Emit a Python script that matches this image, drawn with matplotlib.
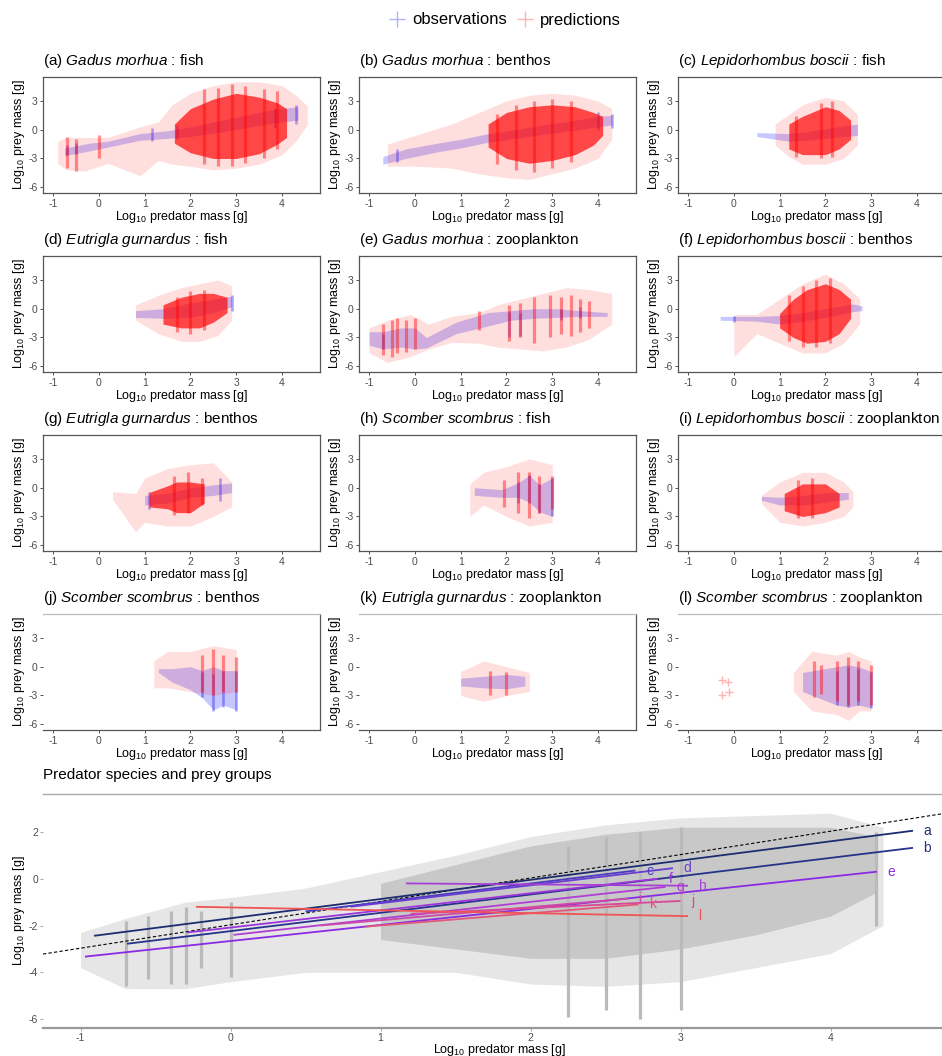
import matplotlib
matplotlib.use("Agg")
import matplotlib.pyplot as plt
from matplotlib.lines import Line2D

plt.rcParams["font.family"] = ["Liberation Sans", "DejaVu Sans"]
plt.rcParams["mathtext.fontset"] = "custom"
plt.rcParams["mathtext.rm"] = "Liberation Sans"
plt.rcParams["mathtext.it"] = "Liberation Sans:italic"
plt.rcParams["axes.unicode_minus"] = False

# ---- data: (log10 predator mass, prey mass low, prey mass high)
panel_ids = ["a", "b", "c", "d", "e", "f", "g", "h", "i", "j", "k", "l"]
panel_species = ["Gadus morhua", "Gadus morhua", "Lepidorhombus boscii",
                 "Eutrigla gurnardus", "Gadus morhua", "Lepidorhombus boscii",
                 "Eutrigla gurnardus", "Scomber scombrus", "Lepidorhombus boscii",
                 "Scomber scombrus", "Eutrigla gurnardus", "Scomber scombrus"]
panel_prey = ["fish", "benthos", "fish", "fish", "zooplankton", "benthos",
              "benthos", "fish", "zooplankton", "benthos", "zooplankton", "zooplankton"]

pred_env_a = [(-0.9, -3.5, -1.2), (-0.7, -4.2, -0.8), (-0.3, -4.3, -0.8), (0.2, -3.5, -0.8),
              (0.9, -4.8, 0.3), (1.3, -3.2, 0.8), (1.6, -3.6, 2.6), (2.0, -3.8, 3.8),
              (2.5, -4.2, 4.6), (3.0, -4.0, 5.0), (3.5, -3.6, 5.0), (4.0, -2.6, 4.6),
              (4.3, -1.2, 3.6), (4.55, 0.5, 2.5)]
pred_core_a = [(1.65, -1.4, 0.6), (2.0, -2.4, 2.2), (2.5, -3.0, 3.2), (3.0, -3.0, 3.8),
               (3.5, -2.5, 3.4), (3.9, -1.5, 2.8), (4.1, -0.8, 2.2)]
pred_streak_a = [(-0.7, -4.0, -0.8), (-0.5, -4.3, -1.0), (0.0, -3.0, -0.5), (2.3, -3.6, 4.2),
                 (2.6, -3.8, 4.4), (2.9, -3.8, 4.8), (3.2, -3.5, 4.6), (3.6, -3.0, 4.2),
                 (3.9, -2.0, 4.0)]
obs_a = [(-0.75, -2.7, -1.9), (-0.2, -2.2, -1.4), (0.2, -1.8, -1.2), (0.9, -1.1, -0.4),
         (1.5, -0.9, -0.1), (2.0, -0.7, 0.3), (2.6, -0.3, 0.9), (3.2, 0.2, 1.5),
         (3.8, 0.7, 2.1), (4.35, 1.0, 2.4)]
obs_streak_a = [(-0.7, -2.6, -1.6), (-0.5, -2.5, -1.4), (1.15, -1.2, 0.2), (1.7, -1.0, 0.5),
                (3.85, 0.2, 2.3), (4.3, 0.6, 2.6)]

pred_env_b = [(-0.6, -3.8, -1.5), (0.0, -3.8, -0.6), (0.8, -4.0, 0.6), (1.4, -4.6, 1.8),
              (2.0, -5.0, 3.0), (2.5, -5.2, 3.6), (3.0, -4.6, 3.8), (3.5, -4.0, 3.6),
              (4.0, -3.0, 3.0), (4.3, -1.0, 2.2)]
pred_core_b = [(1.6, -1.8, 0.6), (2.0, -3.0, 1.8), (2.5, -3.5, 2.4), (3.0, -3.2, 2.6),
               (3.5, -2.6, 2.4), (3.9, -1.6, 1.8), (4.1, -0.6, 1.4)]
pred_streak_b = [(1.8, -3.6, 1.6), (2.2, -4.2, 2.6), (2.6, -4.4, 3.0), (3.0, -4.0, 3.2),
                 (3.4, -3.4, 3.0)]
obs_b = [(-0.7, -3.6, -2.8), (-0.2, -3.0, -2.0), (0.5, -2.3, -1.4), (1.0, -1.9, -1.0),
         (1.6, -1.3, -0.4), (2.2, -0.9, 0.0), (2.8, -0.5, 0.5), (3.4, -0.1, 0.9),
         (4.0, 0.3, 1.4), (4.3, 0.5, 1.5)]
obs_streak_b = [(-0.4, -3.4, -2.0), (4.0, 0.0, 1.8), (4.3, 0.2, 1.6)]

pred_env_c = [(0.9, -1.6, 0.6), (1.2, -2.8, 1.6), (1.5, -3.6, 2.6), (2.0, -3.6, 3.4),
              (2.4, -3.0, 3.0), (2.7, -1.6, 1.6)]
pred_core_c = [(1.2, -2.0, 0.6), (1.5, -2.6, 1.4), (2.0, -2.6, 2.4), (2.3, -2.0, 2.0),
               (2.55, -1.0, 1.0)]
pred_streak_c = [(1.35, -2.8, 1.4), (1.9, -3.0, 2.8), (2.15, -2.8, 3.0)]
obs_c = [(0.5, -0.7, -0.3), (1.2, -1.2, -0.4), (1.6, -1.1, -0.2), (2.0, -0.9, 0.1),
         (2.4, -0.7, 0.4), (2.7, -0.6, 0.6)]
obs_streak_c = []

pred_env_d = [(0.8, -1.2, 0.4), (1.3, -2.6, 1.4), (1.8, -3.4, 2.2), (2.2, -3.4, 2.6),
              (2.6, -2.8, 3.0), (2.9, -1.2, 2.4)]
pred_core_d = [(1.4, -1.6, 0.4), (1.8, -2.0, 1.2), (2.2, -2.0, 1.6), (2.5, -1.4, 1.6),
               (2.8, -0.4, 1.2)]
pred_streak_d = [(1.7, -2.4, 1.2), (2.0, -2.6, 1.8), (2.3, -2.2, 2.0)]
obs_d = [(0.8, -0.9, -0.2), (1.4, -1.0, 0.0), (2.0, -0.9, 0.6), (2.5, -0.4, 1.0),
         (2.9, 0.2, 1.3)]
obs_streak_d = [(2.9, -0.2, 1.4)]

pred_env_e = [(-1.0, -4.6, -2.0), (-0.6, -5.6, -1.2), (-0.1, -5.0, -0.6), (0.3, -4.2, -1.6),
              (0.8, -3.5, -0.8), (1.4, -3.6, -0.4), (1.8, -4.0, 0.4), (2.3, -4.2, 1.0),
              (2.8, -4.4, 1.6), (3.3, -4.0, 2.2), (3.8, -3.2, 2.0), (4.3, -1.6, 1.6)]
pred_core_e = []
pred_streak_e = [(-0.7, -4.8, -1.6), (-0.5, -5.0, -1.2), (-0.4, -4.6, -1.0), (-0.2, -4.5, -1.2),
                 (0.0, -4.2, -1.0), (1.4, -2.2, -0.2), (2.05, -3.4, 0.4), (2.3, -3.0, 0.6),
                 (2.6, -3.6, 1.2), (2.95, -3.0, 1.4), (3.2, -2.6, 1.2), (3.4, -2.8, 1.4),
                 (3.6, -2.4, 1.0), (3.8, -2.0, 0.8)]
obs_e = [(-1.0, -3.8, -2.4), (-0.7, -4.2, -2.4), (-0.3, -4.0, -2.0), (0.0, -4.2, -2.0),
         (0.25, -4.1, -3.0), (0.9, -2.6, -1.4), (1.6, -1.8, -0.4), (2.1, -1.2, -0.2),
         (2.6, -1.0, 0.0), (3.1, -0.9, 0.0), (3.6, -0.8, -0.2), (4.2, -0.8, -0.4)]
obs_streak_e = [(-0.7, -4.2, -2.6), (2.05, -3.0, -0.3), (2.3, -2.8, -0.4), (3.2, -1.2, 0.0),
                (3.6, -1.0, 0.2)]

pred_env_f = [(0.0, -5.0, -0.6), (0.5, -2.6, -0.6), (1.0, -3.6, 1.0), (1.5, -4.6, 2.6),
              (2.0, -4.6, 3.6), (2.4, -3.6, 2.6), (2.75, -1.6, 1.0)]
pred_core_f = [(1.0, -2.0, -0.5), (1.3, -3.0, 1.0), (1.6, -3.6, 2.0), (2.0, -3.4, 2.6),
               (2.3, -2.6, 2.0), (2.55, -1.0, 1.0)]
pred_streak_f = [(1.2, -3.4, 1.4), (1.5, -4.0, 2.4), (1.8, -4.0, 3.0), (2.1, -3.6, 3.2)]
obs_f = [(-0.3, -1.2, -0.8), (0.5, -1.3, -0.8), (1.0, -1.6, -0.7), (1.5, -1.3, -0.4),
         (2.0, -0.9, 0.0), (2.6, -0.3, 0.5), (2.8, -0.2, 0.3)]
obs_streak_f = [(0.0, -1.4, -0.8)]

pred_env_g = [(0.3, -1.2, -0.4), (0.8, -4.6, -0.6), (1.0, -3.6, 1.0), (1.5, -4.0, 2.0),
              (2.0, -4.0, 2.4), (2.5, -3.0, 2.6), (2.9, -2.0, 0.6)]
pred_core_g = [(1.1, -2.0, -0.5), (1.5, -2.2, 0.2), (1.7, -2.6, 0.6), (2.0, -2.6, 0.6),
               (2.3, -1.6, 0.4)]
pred_streak_g = [(1.65, -2.8, 1.2), (1.95, -2.6, 1.6), (2.25, -1.8, 1.0)]
obs_g = [(1.0, -1.8, -0.8), (1.5, -1.6, -0.6), (2.0, -1.0, 0.0), (2.5, -0.8, 0.3),
         (2.9, -0.5, 0.5)]
obs_streak_g = [(1.1, -2.2, -0.4), (2.65, -1.4, 1.0)]

pred_env_h = [(1.2, -3.0, 0.4), (1.5, -1.8, 1.6), (2.0, -3.0, 2.2), (2.5, -4.0, 3.0),
              (3.0, -3.6, 2.4)]
pred_core_h = []
pred_streak_h = [(1.95, -2.0, 0.8), (2.25, -2.6, 1.6), (2.5, -3.2, 1.6), (2.72, -2.6, 1.2),
                 (3.0, -2.2, 1.2)]
obs_h = [(1.3, -0.8, 0.0), (1.9, -1.0, -0.2), (2.25, -1.0, 0.5), (2.5, -1.5, 1.3),
         (2.72, -2.5, 0.3), (3.0, -3.0, 1.0)]
obs_streak_h = [(2.25, -1.6, 0.6), (2.5, -1.6, 1.3), (2.72, -2.6, 0.4), (3.0, -3.0, 1.0)]

pred_env_i = [(0.6, -1.6, -0.8), (1.0, -3.6, 0.6), (1.5, -4.0, 1.6), (2.0, -3.6, 1.6),
              (2.4, -3.0, 0.6), (2.6, -2.0, -0.4)]
pred_core_i = [(1.1, -2.4, -0.6), (1.5, -3.0, 0.4), (2.0, -2.6, 0.4), (2.3, -2.0, -0.6)]
pred_streak_i = [(1.4, -3.2, 0.8), (1.7, -3.2, 1.0)]
obs_i = [(0.6, -1.3, -0.9), (1.0, -1.8, -1.0), (1.5, -1.8, -0.8), (2.0, -1.5, -0.5),
         (2.5, -1.2, -0.5)]
obs_streak_i = []

pred_env_j = [(1.2, -2.2, 0.6), (1.5, -2.2, 1.6), (2.0, -2.6, 1.6), (2.5, -3.0, 2.2),
              (3.0, -2.6, 1.8)]
pred_core_j = []
pred_streak_j = [(2.25, -2.6, 1.2), (2.5, -3.0, 1.8), (2.72, -2.6, 1.2), (3.0, -2.6, 1.0)]
obs_j = [(1.3, -0.6, -0.2), (1.6, -1.6, -0.2), (2.0, -2.4, 0.0), (2.25, -3.2, -0.4),
         (2.5, -4.5, 0.0), (2.72, -4.0, -0.4), (3.0, -4.5, -0.4)]
obs_streak_j = [(2.25, -3.2, -0.6), (2.5, -4.6, -0.8), (2.72, -4.2, -0.4), (3.0, -4.6, -0.4)]

pred_env_k = [(1.0, -3.0, -0.5), (1.5, -3.6, 0.6), (2.0, -3.0, 0.0), (2.5, -2.6, -0.6)]
pred_core_k = []
pred_streak_k = [(1.65, -3.0, -0.4), (2.0, -3.0, -0.6)]
obs_k = [(1.0, -2.0, -1.2), (1.5, -2.2, -1.0), (2.0, -2.3, -0.8), (2.4, -2.0, -1.0)]
obs_streak_k = []

pred_env_l = [(1.3, -2.6, -0.6), (1.7, -4.6, 1.6), (2.25, -5.0, 1.2), (2.5, -5.6, 1.6),
              (2.75, -4.6, 1.0), (3.0, -4.6, 0.6)]
pred_core_l = []
pred_streak_l = [(1.75, -3.2, 0.6), (1.9, -2.8, 0.2), (2.25, -3.6, 0.6), (2.5, -4.0, 1.0),
                 (2.72, -3.6, 0.6), (3.0, -4.0, 0.2)]
obs_l = [(1.5, -2.6, -0.6), (2.25, -4.0, 0.0), (2.5, -4.2, 0.2), (2.72, -4.0, 0.0),
         (3.0, -4.3, -0.5)]
obs_streak_l = [(2.25, -4.0, -0.4), (2.5, -4.2, 0.0), (2.72, -4.0, -0.2), (3.0, -4.3, -0.6)]
pred_pts_l_x = [-0.25, -0.12, -0.25, -0.1]
pred_pts_l_y = [-1.4, -1.6, -3.0, -2.6]

# bottom panel: all observations in grey + fitted lines per panel
all_env = [(-1.0, -3.8, -2.3), (-0.7, -4.7, -1.7), (-0.3, -4.7, -1.0), (0.0, -4.4, -0.8),
           (0.5, -4.0, -0.4), (1.0, -4.0, 0.3), (1.5, -4.0, 1.0), (2.0, -4.5, 1.8),
           (2.5, -4.6, 2.3), (3.0, -4.4, 2.6), (3.5, -3.8, 2.7), (4.0, -3.2, 2.8),
           (4.35, -2.0, 2.2)]
all_core = [(1.0, -2.6, -0.2), (1.5, -3.0, 0.6), (2.0, -3.4, 1.4), (2.5, -3.4, 1.9),
            (3.0, -3.0, 2.2), (3.5, -2.4, 2.2), (4.0, -1.6, 2.2), (4.3, -0.6, 1.8)]
all_streak = [(-0.7, -4.6, -1.8), (-0.55, -4.3, -1.6), (-0.4, -4.5, -1.4), (-0.3, -4.5, -1.2),
              (-0.2, -3.8, -1.4), (0.0, -4.2, -1.0), (2.25, -5.9, 1.4), (2.5, -5.6, 1.8),
              (2.73, -6.0, 2.0), (3.0, -5.6, 2.2), (4.3, -2.0, 2.0)]

line_x0 = [-0.91, -0.69, 0.50, 0.80, -0.97, -0.29, 0.02, 1.17, 0.60, 1.20, 0.90, -0.23]
line_y0 = [-2.44, -2.78, -1.40, -1.20, -3.33, -2.30, -2.40, -0.20, -2.00, -1.50, -2.05, -1.20]
line_x1 = [4.55, 4.55, 2.70, 2.95, 4.31, 2.85, 2.90, 3.05, 2.65, 3.00, 2.72, 3.05]
line_y1 = [2.05, 1.32, 0.35, 0.45, 0.30, 0.00, -0.35, -0.30, -0.85, -0.95, -1.10, -1.60]
line_colors = ["#1c2c6e", "#26338a", "#4a3cc0", "#6a3dd0", "#8a2be2", "#9c35dc",
               "#b03ed4", "#a63fd6", "#cc4aa8", "#d84896", "#e2577a", "#f05454"]
overall_intercept = -1.97
overall_slope = 1.0

pred_env = [pred_env_a, pred_env_b, pred_env_c, pred_env_d, pred_env_e, pred_env_f,
            pred_env_g, pred_env_h, pred_env_i, pred_env_j, pred_env_k, pred_env_l]
pred_core = [pred_core_a, pred_core_b, pred_core_c, pred_core_d, pred_core_e, pred_core_f,
             pred_core_g, pred_core_h, pred_core_i, pred_core_j, pred_core_k, pred_core_l]
pred_streak = [pred_streak_a, pred_streak_b, pred_streak_c, pred_streak_d, pred_streak_e,
               pred_streak_f, pred_streak_g, pred_streak_h, pred_streak_i, pred_streak_j,
               pred_streak_k, pred_streak_l]
obs_band = [obs_a, obs_b, obs_c, obs_d, obs_e, obs_f, obs_g, obs_h, obs_i, obs_j, obs_k, obs_l]
obs_streak = [obs_streak_a, obs_streak_b, obs_streak_c, obs_streak_d, obs_streak_e,
              obs_streak_f, obs_streak_g, obs_streak_h, obs_streak_i, obs_streak_j,
              obs_streak_k, obs_streak_l]

W, H = 942, 1056
RED, BLUE = "#ff0000", "#0000ff"
XLAB = r"Log$_{10}$ predator mass [g]"
YLAB = r"Log$_{10}$ prey mass [g]"


def px_box(left, top, w, h):
    return [left / W, 1 - (top + h) / H, w / W, h / H]


def band(ax, rows, color, alpha, z):
    if len(rows) < 2:
        return
    xs, lo, hi = zip(*rows)
    ax.fill_between(xs, lo, hi, color=color, alpha=alpha, lw=0, zorder=z)


def streaks(ax, rows, color, alpha, lw, z):
    if not rows:
        return
    xs, lo, hi = zip(*rows)
    ax.vlines(xs, lo, hi, colors=color, alpha=alpha, lw=lw, zorder=z)


def style_axes(ax, w, h, last_row=False):
    ax.set_xlim(-1.22, 4.83)
    ax.set_ylim(-6.6, 5.5)
    ax.set_xticks([-1, 0, 1, 2, 3, 4])
    ax.set_xticklabels(["-1", "0", "1", "2", "3", "4"])
    ax.set_yticks([-6, -3, 0, 3])
    ax.set_yticklabels(["-6", "-3", "0", "3"])
    ax.tick_params(labelsize=7.5, labelcolor="#4d4d4d", color="#333333",
                   length=2.5, width=0.6, pad=1.5)
    for s in ax.spines.values():
        s.set_color("#555555")
        s.set_linewidth(0.9)
    if last_row:
        ax.spines["top"].set_color("#bbbbbb")
        ax.spines["left"].set_visible(False)
    ax.set_xlabel(XLAB, fontsize=9)
    ax.set_ylabel(YLAB, fontsize=9)
    ax.xaxis.set_label_coords(0.5, -16 / h)
    ax.yaxis.set_label_coords(-16 / w, 0.5)


fig = plt.figure(figsize=(W / 100, H / 100), dpi=100)

lefts = [43, 359, 678]
tops = [77, 256, 435, 614]
pw, ph = 277, 116

for k, pid in enumerate(panel_ids):
    r, c = divmod(k, 3)
    ax = fig.add_axes(px_box(lefts[c], tops[r], pw, ph))
    band(ax, obs_band[k], BLUE, 0.22, 1)
    streaks(ax, obs_streak[k], BLUE, 0.35, 1.8, 1.5)
    band(ax, pred_env[k], RED, 0.13, 2)
    band(ax, pred_core[k], RED, 0.68, 3)
    streaks(ax, pred_streak[k], RED, 0.42, 2.3, 4)
    if pid == "l":
        ax.plot(pred_pts_l_x, pred_pts_l_y, "+", color=RED, alpha=0.3, ms=6)
    style_axes(ax, pw, ph, last_row=(r == 3))
    sp = panel_species[k].replace(" ", r"\ ")
    ax.text(0, 1 + 16 / ph, f"({pid}) $\\mathit{{{sp}}}$ : {panel_prey[k]}",
            transform=ax.transAxes, ha="left", va="center", fontsize=11)

# bottom panel
bw, bh = 912, 234
axb = fig.add_axes(px_box(43, 794, bw, bh))
band(axb, all_env, "#e6e6e6", 1.0, 1)
band(axb, all_core, "#c8c8c8", 1.0, 2)
streaks(axb, all_streak, "#bababa", 1.0, 2.3, 3)
axb.axline((0, overall_intercept), slope=overall_slope, color="black", lw=0.8,
           ls=(0, (3, 2)), zorder=5)
for k, pid in enumerate(panel_ids):
    axb.plot([line_x0[k], line_x1[k]], [line_y0[k], line_y1[k]], color=line_colors[k],
             lw=1.3, zorder=6, solid_capstyle="butt")
    axb.text(line_x1[k] + 0.07, line_y1[k], pid, color=line_colors[k], fontsize=10,
             ha="left", va="center", zorder=7)
axb.set_xlim(-1.25, 4.83)
axb.set_ylim(-6.38, 3.62)
axb.set_xticks([-1, 0, 1, 2, 3, 4])
axb.set_xticklabels(["-1", "0", "1", "2", "3", "4"])
axb.set_yticks([-6, -4, -2, 0, 2])
axb.set_yticklabels(["-6", "-4", "-2", "0", "2"])
axb.tick_params(labelsize=7.5, labelcolor="#4d4d4d", color="#999999",
                length=2.5, width=0.6, pad=1.0)
axb.spines["left"].set_visible(False)
axb.spines["right"].set_visible(False)
axb.spines["top"].set_color("#aaaaaa")
axb.spines["top"].set_linewidth(1.0)
axb.spines["bottom"].set_color("#999999")
axb.spines["bottom"].set_linewidth(1.6)
axb.set_xlabel(XLAB, fontsize=9)
axb.set_ylabel(YLAB, fontsize=9)
axb.xaxis.set_label_coords(0.5, -14 / bh)
axb.yaxis.set_label_coords(-16 / bw, 0.5)
axb.text(0, 1 + 19 / bh, "Predator species and prey groups", transform=axb.transAxes,
         ha="left", va="center", fontsize=11)

# legend
handles = [Line2D([], [], ls="none", marker="+", ms=11, mew=1.0, color=BLUE, alpha=0.3),
           Line2D([], [], ls="none", marker="+", ms=11, mew=1.0, color=RED, alpha=0.3)]
fig.legend(handles, ["observations", "predictions"], loc="center",
           bbox_to_anchor=(505 / W, 1 - 20 / H), ncol=2, frameon=False, fontsize=12,
           handlelength=1.0, handletextpad=0.4, columnspacing=0.6)

fig.savefig("out.png", dpi=100)
